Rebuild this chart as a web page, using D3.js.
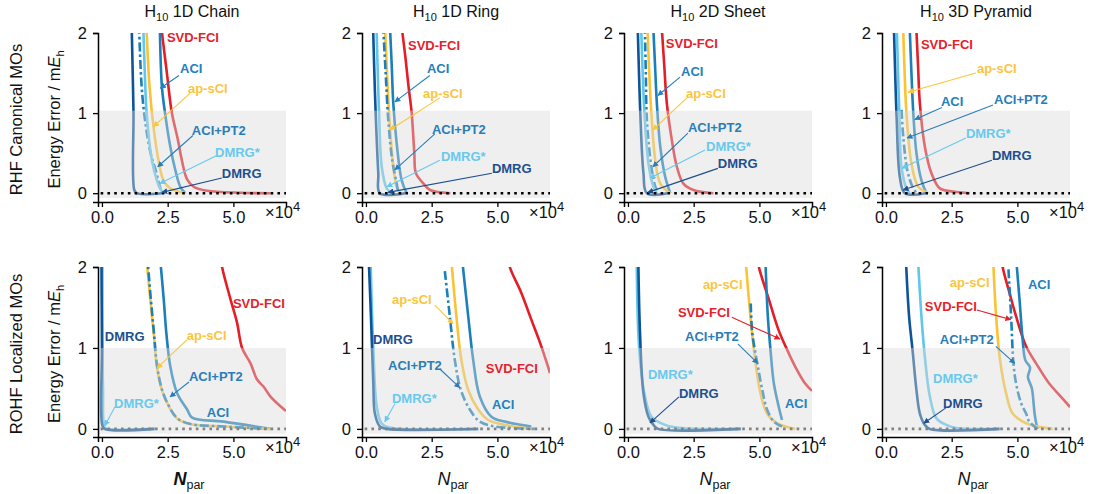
<!DOCTYPE html>
<html><head><meta charset="utf-8">
<script src="https://cdn.jsdelivr.net/npm/d3@7"></script>
<style>body{margin:0;background:#fff}svg{font-family:"Liberation Sans",Arial,Helvetica,sans-serif}</style>
</head><body><svg id="c" width="1097" height="494"></svg>
<script>
// ---------- categories / tick labels ----------
const systems = ["1D Chain", "1D Ring", "2D Sheet", "3D Pyramid"];
const rowLabels = ["RHF Canonical MOs", "ROHF Localized MOs"];
const methods = ["SVD-FCI", "ACI", "ap-sCI", "ACI+PT2", "DMRG*", "DMRG"];
const xTickValues = [0, 2.5, 5.0];          // N_par in units of 10^4
const xTickLabels = ["0.0", "2.5", "5.0"];
const yTickValues = [0, 1, 2];              // energy error, mEh
const yTickLabels = ["0", "1", "2"];

// ---------- series values: [N_par / 1e4, error / mEh], one list per system ----------
// RHF canonical MOs (top row)
const rhfSVDFCI = [
  [[2.26,2.1],[2.28,2.02],[2.47,1.5],[2.66,1.0],[2.88,0.68],[3.04,0.41],[3.23,0.18],[3.49,0.08],[4.0,0.03],[5.27,0.005],[6.41,0]],
  [[1.35,2.1],[1.5,1.7],[1.62,1.33],[1.74,1.0],[1.84,0.5],[1.9,0.25],[2.19,0.12],[2.44,0.04],[3.21,0]],
  [[1.28,2.1],[1.38,1.6],[1.48,1.12],[1.67,0.66],[1.86,0.33],[2.11,0.12],[2.49,0.04],[3.25,0]],
  [[1.15,2.1],[1.22,1.6],[1.29,1.12],[1.48,0.58],[1.73,0.25],[2.05,0.06],[2.56,0.02],[3.19,0]]
];
const rhfACI = [
  [[2.2,2.1],[2.28,1.33],[2.4,1.0],[2.6,0.58],[2.79,0.29],[2.98,0.08],[3.17,0]],
  [[0.91,2.1],[0.98,1.6],[1.04,1.12],[1.17,0.62],[1.36,0.16],[1.55,0]],
  [[0.96,2.1],[1.03,1.6],[1.1,1.12],[1.23,0.58],[1.42,0.2],[1.61,0]],
  [[0.9,2.1],[0.97,1.5],[1.04,1.0],[1.16,0.5],[1.35,0.16],[1.54,0]]
];
const rhfAPSCI = [
  [[1.69,2.1],[1.81,1.33],[1.96,0.83],[2.15,0.41],[2.34,0.16],[2.6,0.06],[3.17,0]],
  [[0.72,2.1],[0.8,1.5],[0.88,1.0],[1.04,0.33],[1.17,0.08],[1.3,0]],
  [[0.74,2.1],[0.81,1.5],[0.89,1.0],[1.04,0.41],[1.23,0.12],[1.61,0]],
  [[0.65,2.1],[0.71,1.5],[0.78,1.0],[0.97,0.37],[1.23,0.08],[1.61,0]]
];
const rhfACIPT2 = [
  [[1.41,2.1],[1.51,1.33],[1.64,0.91],[1.85,0.5],[2.05,0.28],[2.17,0.12],[2.28,0]],
  [[0.65,2.1],[0.75,1.5],[0.85,0.91],[1.0,0.41],[1.17,0.12],[1.23,0]],
  [[0.64,2.1],[0.68,1.5],[0.72,0.91],[0.89,0.33],[1.04,0.08],[1.16,0]],
  [[0.59,1.04],[0.66,0.7],[0.81,0.29],[1.01,0.08],[1.16,0]]
];
const rhfDMRGstar = [
  [[1.57,2.1],[1.63,1.5],[1.7,1.0],[1.9,0.41],[2.09,0.16],[2.21,0.06],[2.34,0]],
  [[0.4,2.1],[0.45,1.5],[0.5,1.0],[0.6,0.33],[0.79,0.06],[0.98,0]],
  [[0.5,2.1],[0.56,1.5],[0.63,1.0],[0.78,0.37],[0.97,0.08],[1.1,0]],
  [[0.41,2.1],[0.46,1.5],[0.51,1.0],[0.59,0.33],[0.78,0.06],[0.91,0]]
];
const rhfDMRG = [
  [[1.13,2.1],[1.17,1.5],[1.2,1.0],[1.23,0.04],[1.32,0],[2.28,0]],
  [[0.27,2.1],[0.32,1.5],[0.37,1.0],[0.47,0.25],[0.53,0],[1.49,0]],
  [[0.37,2.1],[0.42,1.5],[0.47,1.0],[0.59,0.25],[0.72,0],[1.5,0]],
  [[0.3,2.1],[0.36,1.4],[0.41,0.91],[0.53,0.2],[0.72,0],[1.5,0]]
];
// ROHF localized MOs (bottom row)
const rohfSVDFCI = [
  [[4.52,2.15],[4.57,2.0],[4.89,1.6],[5.14,1.31],[5.33,1.0],[5.65,0.81],[5.9,0.61],[6.15,0.52],[6.41,0.4],[7.0,0.22]],
  [[5.4,2.15],[5.47,2.0],[5.91,1.68],[6.29,1.35],[6.67,1.02],[7.0,0.69]],
  [[4.92,2.15],[4.98,2.0],[5.36,1.6],[5.73,1.22],[6.05,0.98],[6.36,0.77],[6.74,0.56],[7.0,0.47]],
  [[4.4,2.15],[4.44,2.0],[4.7,1.68],[4.95,1.39],[5.33,1.02],[5.71,0.81],[6.21,0.56],[6.65,0.4],[7.0,0.27]]
];
const rohfACI = [
  [[2.2,2.15],[2.35,1.6],[2.45,1.18],[2.6,0.77],[2.86,0.44],[3.24,0.24],[3.43,0.14],[4.63,0.09],[6.41,0]],
  [[3.64,2.15],[3.89,1.39],[4.08,0.85],[4.33,0.4],[4.77,0.15],[5.28,0.09],[6.29,0.03]],
  [[5.22,2.15],[5.32,1.39],[5.42,0.98],[5.55,0.56],[5.73,0.28],[5.86,0.11]],
  [[4.94,2.15],[5.08,1.6],[5.2,1.1],[5.3,0.85],[5.48,0.76],[5.4,0.64],[5.55,0.5],[5.62,0.3],[5.65,0.2],[5.72,0.06],[5.77,0]]
];
const rohfAPSCI = [
  [[1.68,2.15],[1.84,1.6],[1.97,1.18],[2.09,0.77],[2.28,0.48],[2.54,0.28],[2.86,0.13],[3.36,0.06],[4.63,0.03],[6.41,0]],
  [[3.23,2.15],[3.44,1.39],[3.63,0.85],[3.89,0.48],[4.27,0.24],[4.65,0.11],[5.28,0.05],[6.35,0]],
  [[4.46,2.15],[4.6,1.6],[4.79,0.98],[5.04,0.44],[5.29,0.19],[5.67,0.07],[6.36,0]],
  [[4.07,2.15],[4.19,1.39],[4.34,0.85],[4.57,0.44],[4.82,0.19],[5.33,0.07],[6.34,0]]
];
const rohfACIPT2 = [
  [[1.72,2.15],[1.86,1.6],[1.98,1.18],[2.1,0.77],[2.29,0.48],[2.55,0.28],[2.87,0.13],[3.37,0.06],[4.63,0.03],[6.41,0]],
  [[3.0,1.95],[3.19,1.39],[3.38,0.85],[3.61,0.48],[3.95,0.24],[4.33,0.09],[4.9,0.03],[6.42,0]],
  [[4.67,1.55],[4.73,1.18],[4.92,0.81],[5.11,0.48],[5.29,0.24],[5.55,0.09],[5.86,0.03]],
  [[4.66,1.97],[4.76,1.39],[4.85,0.81],[4.95,0.56],[5.14,0.32],[5.33,0.19],[5.45,0.09],[5.77,0]]
];
const rohfDMRGstar = [
  [[0.02,2.15],[0.04,0.5],[0.1,0.02],[0.2,0],[2.0,0]],
  [[0.17,2.15],[0.28,1.0],[0.41,0.28],[0.59,0.07],[0.85,0.02],[4.27,0]],
  [[0.33,2.15],[0.43,0.98],[0.65,0.4],[0.9,0.15],[1.41,0.05],[2.03,0.01],[4.29,0]],
  [[1.21,2.15],[1.35,1.39],[1.48,0.89],[1.67,0.4],[1.92,0.13],[2.3,0.05],[2.68,0.01],[4.32,0]]
];
const rohfDMRG = [
  [[-0.02,2.15],[0.0,1.0],[0.01,0.05],[0.1,0],[2.0,0]],
  [[0.1,2.15],[0.19,1.39],[0.28,0.56],[0.34,0.19],[0.53,0.03],[0.8,0],[4.27,0]],
  [[0.39,2.15],[0.46,1.18],[0.59,0.44],[0.78,0.15],[0.97,0.05],[1.15,0],[4.29,0]],
  [[0.75,2.15],[0.88,1.39],[1.01,0.98],[1.16,0.48],[1.29,0.19],[1.48,0.05],[1.67,0],[4.32,0]]
];

// ---------- annotations (data coords): method, label x,y, arrow from x,y, arrow to x,y ----------
const rhfNotes = [
  [["SVD-FCI",2.47,1.94],["ACI",2.97,1.56,2.93,1.47,2.22,1.31],["ap-sCI",3.27,1.31,3.35,1.25,1.96,0.83],
   ["ACI+PT2",3.42,0.79,3.46,0.72,2.12,0.33],["DMRG*",4.3,0.51,4.37,0.47,2.2,0.12],["DMRG",4.56,0.25,4.56,0.19,2.28,0.01]],
  [["SVD-FCI",1.6,1.85],["ACI",2.32,1.56,2.43,1.47,1.1,1.14],["ap-sCI",2.17,1.25,2.81,1.19,0.91,0.79],
   ["ACI+PT2",2.51,0.8,2.62,0.74,1.1,0.29],["DMRG*",2.85,0.46,2.81,0.41,0.8,0.08],["DMRG",4.79,0.31,4.79,0.25,0.84,0.01]],
  [["SVD-FCI",1.44,1.875],["ACI",2.02,1.525,1.98,1.45,1.14,1.22],["ap-sCI",2.21,1.25,2.24,1.19,0.95,0.79],
   ["ACI+PT2",2.28,0.825,2.28,0.75,0.95,0.33],["DMRG*",2.97,0.59,2.93,0.54,0.84,0.19],["DMRG",3.42,0.375,3.42,0.31,0.76,0.01]],
  [["SVD-FCI",1.33,1.86],["ap-sCI",3.46,1.56,3.42,1.5,0.84,1.26],["ACI",2.09,1.15,2.13,1.07,1.1,0.92],
   ["ACI+PT2",4.11,1.175,4.07,1.1,0.8,0.69],["DMRG*",3.04,0.75,3.04,0.69,0.61,0.31],["DMRG",4.03,0.475,4.03,0.41,0.65,0.04]]
];
const rohfNotes = [
  [["SVD-FCI",4.98,1.555],["DMRG",0.11,1.14],["ap-sCI",3.23,1.16,3.23,1.1,2.09,0.75],
   ["ACI+PT2",3.31,0.654,3.31,0.58,2.59,0.395],["DMRG*",0.46,0.32,0.49,0.27,0.11,0.04],["ACI",3.99,0.21]],
  [["ap-sCI",0.99,1.6,2.62,1.53,3.31,1.3],["DMRG",0.27,1.11],["ACI+PT2",0.84,0.79,2.81,0.74,3.57,0.51],
   ["SVD-FCI",4.56,0.75],["DMRG*",0.99,0.38,1.1,0.31,0.72,0.09],["ACI",4.79,0.3]],
  [["ap-sCI",2.85,1.79],["SVD-FCI",1.9,1.44,3.95,1.38,5.78,1.11],["ACI+PT2",2.17,1.14,4.18,1.05,4.94,0.81],
   ["DMRG*",0.76,0.68],["DMRG",1.94,0.44,1.94,0.395,0.84,0.074],["ACI",5.97,0.31]],
  [["ap-sCI",2.43,1.81],["ACI",5.4,1.78],["SVD-FCI",1.48,1.52,3.46,1.47,4.75,1.35],
   ["ACI+PT2",2.05,1.11,4.18,1.02,4.9,0.81],["DMRG*",1.79,0.62],["DMRG",2.17,0.32,2.28,0.26,1.44,0.07]]
];

// ---------- styles ----------
const lineColor = {"SVD-FCI":"#e31e26","ACI":"#1a7fba","ACI+PT2":"#1a7fba","ap-sCI":"#fbc333","DMRG*":"#5fc6ec","DMRG":"#0d5598"};
const textColor = {"SVD-FCI":"#e4222b","ACI":"#2381bd","ACI+PT2":"#2a7db8","ap-sCI":"#fbc53c","DMRG*":"#68c9ee","DMRG":"#1d4f8f"};

const svg = d3.select("#c");
const defs = svg.append("defs");
Object.keys(textColor).forEach((m,i)=>{
  defs.append("marker").attr("id","ar"+i).attr("viewBox","0 0 10 10").attr("refX",9).attr("refY",5)
    .attr("markerWidth",6).attr("markerHeight",6).attr("orient","auto-start-reverse").attr("markerUnits","userSpaceOnUse")
    .append("path").attr("d","M0,0L10,5L0,10z").attr("fill",textColor[m]);
});
const markerId = m => "ar"+Object.keys(textColor).indexOf(m);

const rows = [
  {series:{"SVD-FCI":rhfSVDFCI,"ACI":rhfACI,"ap-sCI":rhfAPSCI,"ACI+PT2":rhfACIPT2,"DMRG*":rhfDMRGstar,"DMRG":rhfDMRG},
   notes:rhfNotes, yr:[202,33], yd:[-0.11,2], band:[-0.06,1.03], dotsOnTop:true},
  {series:{"SVD-FCI":rohfSVDFCI,"ACI":rohfACI,"ap-sCI":rohfAPSCI,"ACI+PT2":rohfACIPT2,"DMRG*":rohfDMRGstar,"DMRG":rohfDMRG},
   notes:rohfNotes, yr:[437,267], yd:[-0.1,2], band:[-0.06,1.0], dotsOnTop:false}
];
const panelLeft = [98, 362, 624, 882];
const panelW = 188;

rows.forEach((row, r) => {
  systems.forEach((sys, c) => {
    const L = panelLeft[c];
    const x = d3.scaleLinear().domain([-0.15, 7.0]).range([L, L + panelW]);
    const y = d3.scaleLinear().domain(row.yd).range(row.yr);
    const g = svg.append("g");
    const cid = "clip" + r + c;
    defs.append("clipPath").attr("id", cid).append("rect")
      .attr("x", L).attr("y", y(2)).attr("width", panelW).attr("height", y(row.yd[0]) - y(2));
    const plot = g.append("g").attr("clip-path", `url(#${cid})`);
    const line = d3.line().x(d => x(d[0])).y(d => y(d[1])).curve(d3.curveCatmullRom.alpha(0.5));
    methods.forEach(m => {
      plot.append("path").datum(row.series[m][c]).attr("d", line)
        .attr("fill", "none").attr("stroke", lineColor[m]).attr("stroke-width", 2.6)
        .attr("stroke-linejoin","round")
        .attr("stroke-dasharray", m === "ACI+PT2" ? "9,3,2.5,3" : null);
    });
    const zero = () => plot.append("line").attr("x1", x(-0.05)).attr("x2", x(7.0)).attr("y1", y(0)).attr("y2", y(0))
      .attr("stroke", row.dotsOnTop ? "#000" : "#444").attr("stroke-width", 2.6).attr("stroke-dasharray", "2.6,4.2");
    if (!row.dotsOnTop) zero();
    plot.append("rect").attr("x", x(-0.15)).attr("width", x(7.0) - x(-0.15))
      .attr("y", y(row.band[1])).attr("height", y(row.band[0]) - y(row.band[1]))
      .attr("fill", "#d9d9d9").attr("fill-opacity", 0.42);
    if (row.dotsOnTop) zero();

    // axes
    const xa = g.append("g").attr("transform", `translate(0,${row.yr[0]})`)
      .call(d3.axisBottom(x).tickValues(xTickValues).tickFormat((d,i)=>xTickLabels[i]).tickSizeOuter(0).tickSize(5).tickPadding(4));
    const ya = g.append("g").attr("transform", `translate(${L},0)`)
      .call(d3.axisLeft(y).tickValues(yTickValues).tickFormat((d,i)=>yTickLabels[i]).tickSizeOuter(0).tickSize(5).tickPadding(6));
    [xa, ya].forEach(a => {
      a.select(".domain").attr("stroke", "#000").attr("stroke-width", 1.5);
      a.selectAll(".tick line").attr("stroke", "#000").attr("stroke-width", 1.3);
      a.selectAll("text").attr("font-size", 16.5).attr("fill", "#111").attr("font-family", "Liberation Sans, Arial, sans-serif");
    });
    // x10^4
    const ex = g.append("text").attr("x", L + panelW - 21).attr("y", row.yr[0] + 16)
      .attr("font-size", 16.5).attr("fill", "#111");
    ex.append("tspan").text("×10");
    ex.append("tspan").text("4").attr("font-size", 13).attr("dy", -7);

    // title
    if (r === 0) {
      const t = g.append("text").attr("x", L + panelW / 2).attr("y", 17).attr("text-anchor", "middle")
        .attr("font-size", 16).attr("fill", "#111");
      t.append("tspan").text("H");
      t.append("tspan").text("10").attr("font-size", 11).attr("dy", 4);
      t.append("tspan").text(" " + sys).attr("dy", -4);
    } else {
      const t = g.append("text").attr("x", L + panelW / 2 - 3).attr("y", 485).attr("text-anchor", "middle")
        .attr("font-size", 18).attr("fill", "#111");
      t.append("tspan").text("N").attr("font-style", "italic").attr("font-weight", c === 0 ? "bold" : "normal");
      t.append("tspan").text("par").attr("font-size", 12.5).attr("dy", 4);
    }

    // annotations
    row.notes[c].forEach(n => {
      const [m, lx, ly, fx, fy, tx, ty] = n;
      if (fx !== undefined) {
        g.append("line").attr("x1", x(fx)).attr("y1", y(fy)).attr("x2", x(tx)).attr("y2", y(ty))
          .attr("stroke", textColor[m]).attr("stroke-width", 1.1).attr("marker-end", `url(#${markerId(m)})`);
      }
      g.append("text").attr("x", x(lx)).attr("y", y(ly)).attr("dy", "0.36em")
        .attr("font-size", 13).attr("font-weight", "bold").attr("fill", textColor[m]).text(m);
    });
  });

  // row labels
  const yc = (row.yr[0] + row.yr[1]) / 2 + 2;
  svg.append("text").attr("transform", `translate(22,${yc}) rotate(-90)`).attr("text-anchor", "middle")
    .attr("font-size", 16.5).attr("fill", "#111").text(rowLabels[r]);
  const el = svg.append("text").attr("transform", `translate(60,${yc}) rotate(-90)`).attr("text-anchor", "middle")
    .attr("font-size", 16.5).attr("fill", "#111");
  el.append("tspan").text("Energy Error / m");
  el.append("tspan").text("E").attr("font-style", "italic");
  el.append("tspan").text("h").attr("font-size", 11).attr("dy", 4);
});
</script>
</body></html>
